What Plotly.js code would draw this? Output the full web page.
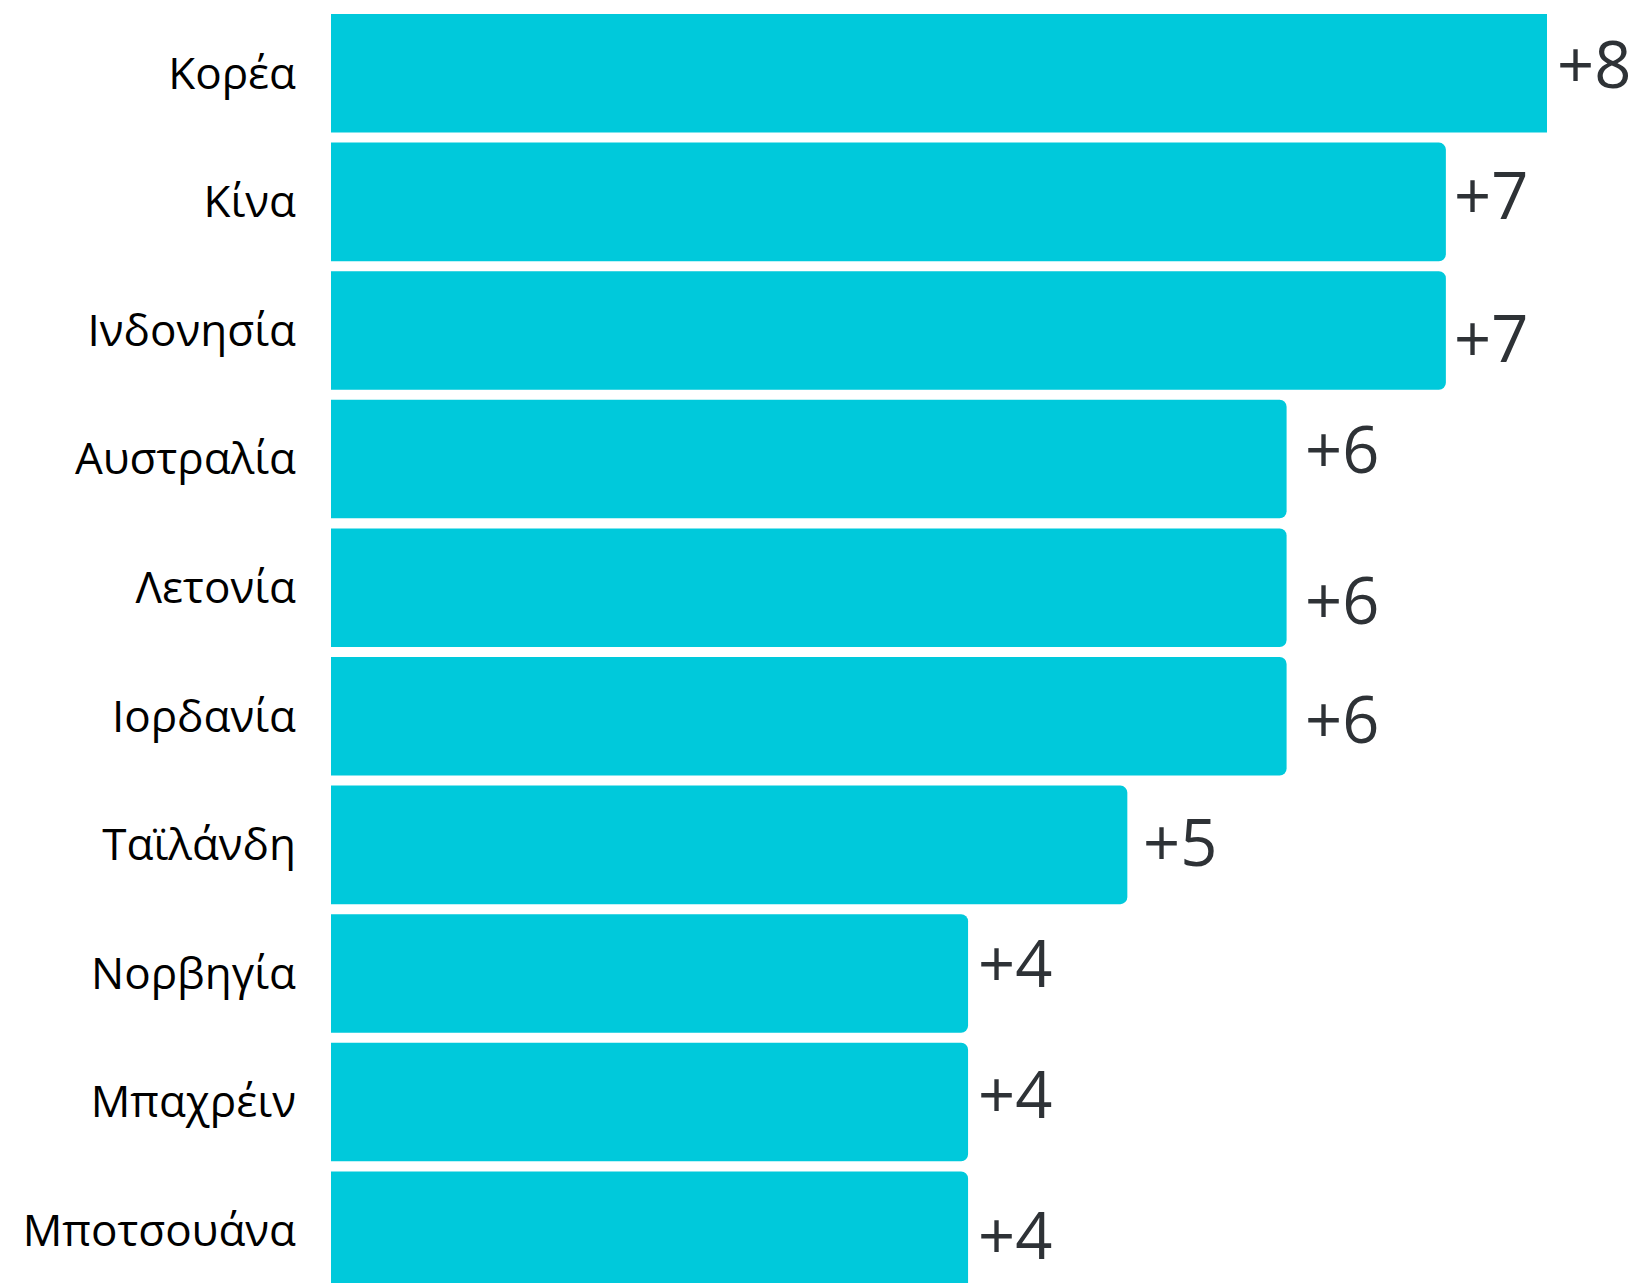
<!DOCTYPE html>
<html>
<head>
<meta charset="utf-8">
<script src="https://cdn.plot.ly/plotly-3.0.1.min.js"></script>
<style>
  html, body { margin: 0; padding: 0; background: #ffffff; }
  #chart { width: 1636px; height: 1283px; }
</style>
</head>
<body>
<div id="chart"></div>
<script>
// ---- data ----
const countries = ["Κορέα", "Κίνα", "Ινδονησία", "Αυστραλία", "Λετονία", "Ιορδανία", "Ταϊλάνδη", "Νορβηγία", "Μπαχρέιν", "Μποτσουάνα"];
const values = [8, 7, 7, 6, 6, 6, 5, 4, 4, 4];
const valueLabels = ["+8", "+7", "+7", "+6", "+6", "+6", "+5", "+4", "+4", "+4"];

// ---- layout tweaks (label placement, px) ----
const xMax = 7.635;
const labelDx = [8, 6, 6, 16, 16, 16, 14, 8, 8, 8];
const labelDy = [-10, -8, 7, -11, 11, 2, -4, -11, -9, 3];

const trace = {
  type: "bar",
  orientation: "h",
  y: countries,
  x: values,
  marker: { color: "#00c9db", cornerradius: 7 },
  hoverinfo: "skip",
  showlegend: false
};

const annotations = countries.map((c, i) => ({
  xref: "x", yref: "y",
  x: Math.min(values[i], xMax),
  y: c,
  text: valueLabels[i],
  showarrow: false,
  xanchor: "left",
  yanchor: "middle",
  xshift: labelDx[i],
  yshift: -labelDy[i],
  font: { family: "Open Sans, Noto Sans, sans-serif", size: 65, color: "#2e3236" }
}));

const layout = {
  width: 1636,
  height: 1283,
  margin: { l: 331, r: 89, t: 0, b: 0, pad: 0 },
  paper_bgcolor: "#ffffff",
  plot_bgcolor: "#ffffff",
  bargap: 0.078,
  xaxis: {
    range: [0, xMax],
    visible: false,
    fixedrange: true
  },
  yaxis: {
    type: "category",
    range: [9.407, -0.570],
    showgrid: false,
    zeroline: false,
    showline: false,
    ticks: "",
    ticklabelstandoff: 34,
    tickfont: { family: "Open Sans, Noto Sans, sans-serif", size: 44, color: "#000000" },
    fixedrange: true
  },
  annotations: annotations,
  font: { family: "Open Sans, Noto Sans, sans-serif" }
};

Plotly.newPlot("chart", [trace], layout, { displayModeBar: false, staticPlot: true });
</script>
</body>
</html>
